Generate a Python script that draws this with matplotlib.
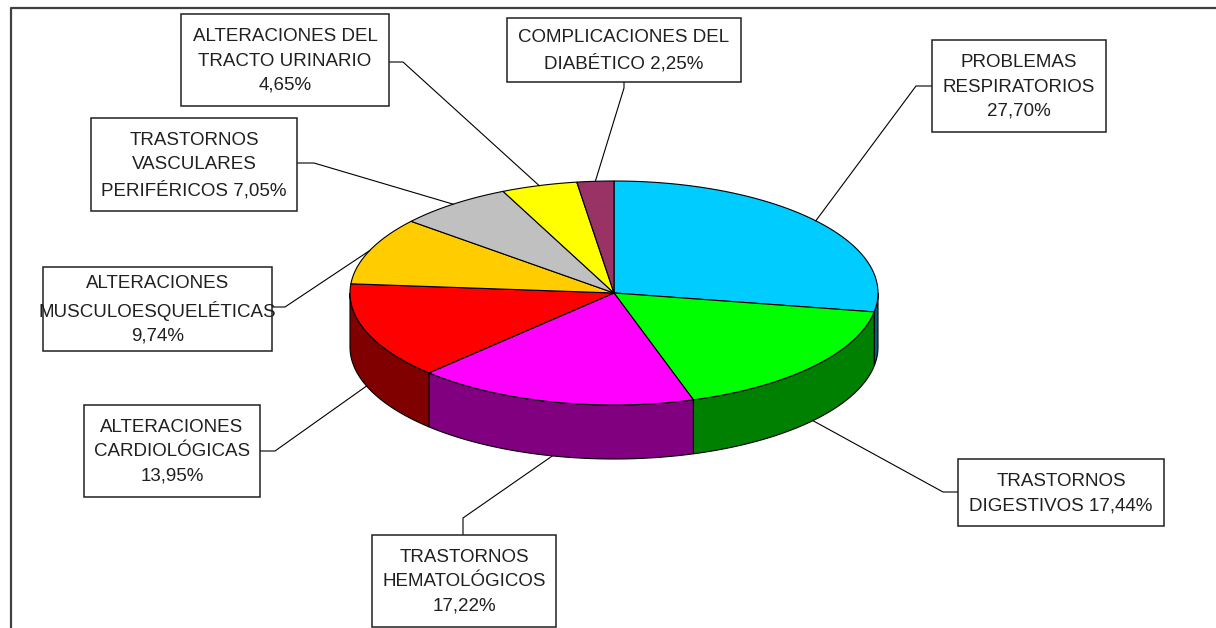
import numpy as np
import matplotlib
matplotlib.use('Agg')
import matplotlib.pyplot as plt
from matplotlib.patches import Polygon, Rectangle

plt.rcParams['font.family'] = ['Liberation Sans', 'DejaVu Sans']

#############################################################################
# datos
#############################################################################

nombres = ['PROBLEMAS\nRESPIRATORIOS\n{}',
           'TRASTORNOS\nDIGESTIVOS {}',
           'TRASTORNOS\nHEMATOLÓGICOS\n{}',
           'ALTERACIONES\nCARDIOLÓGICAS\n{}',
           'ALTERACIONES\nMUSCULOESQUELÉTICAS\n{}',
           'TRASTORNOS\nVASCULARES\nPERIFÉRICOS {}',
           'ALTERACIONES DEL\nTRACTO URINARIO\n{}',
           'COMPLICACIONES DEL\nDIABÉTICO {}']
porcentajes = [27.70, 17.44, 17.22, 13.95, 9.74, 7.05, 4.65, 2.25]

colores = ['#00CCFF', '#00FF00', '#FF00FF', '#FF0000',
           '#FFCC00', '#C0C0C0', '#FFFF00', '#993366']
colores_lado = ['#00607A', '#008000', '#800080', '#800000',
                '#806600', '#606060', '#808000', '#4C1933']

# cajas de etiqueta (x0, y0, x1, y1) en pixeles
cajas = [(932, 40, 1106, 132),
         (958, 459, 1164, 526),
         (372, 535, 556, 627),
         (84, 405, 260, 497),
         (43, 267, 272, 351),
         (91, 118, 297, 211),
         (181, 14, 389, 106),
         (507, 18, 741, 82)]
# punto de la caja y codo de la linea guia
anclas = [((932, 86), (916, 86)),
          ((958, 492), (943, 492)),
          ((463, 535), (463, 518)),
          ((260, 451), (275, 451)),
          ((272, 307), (285, 307)),
          ((297, 163), (314, 163)),
          ((389, 62), (403, 62)),
          ((624, 82), (624, 88))]

# geometria del pastel 3D
CX, CY = 614, 293
RA, RB = 264, 112
ALTO = 54

#############################################################################

W, H = 1216, 628
fig = plt.figure(figsize=(W / 100, H / 100), dpi=100)
ax = fig.add_axes([0, 0, 1, 1])
ax.set_xlim(0, W)
ax.set_ylim(H, 0)
ax.axis('off')


def punto(t, dy=0):
    # t en grados, sentido horario desde las 12
    r = np.radians(t)
    return CX + RA * np.sin(r), CY - RB * np.cos(r) + dy


def arco(t1, t2, dy=0):
    ts = np.linspace(t1, t2, max(int(abs(t2 - t1) * 2), 2))
    xs, ys = punto(ts, dy)
    return np.column_stack([xs, ys])


total = sum(porcentajes)
angulos = np.concatenate([[0], np.cumsum(porcentajes) / total * 360])

# lados (solo la parte frontal, de 90 a 270 grados)
for i in range(len(porcentajes)):
    t1, t2 = angulos[i], angulos[i + 1]
    a1, a2 = max(t1, 90), min(t2, 270)
    if a2 <= a1:
        continue
    sup = arco(a1, a2)
    inf = arco(a1, a2, ALTO)[::-1]
    ax.add_patch(Polygon(np.vstack([sup, inf]), closed=True,
                         facecolor=colores_lado[i], edgecolor='black',
                         linewidth=0.8, zorder=1))

# cara superior
for i in range(len(porcentajes)):
    t1, t2 = angulos[i], angulos[i + 1]
    pts = np.vstack([[CX, CY], arco(t1, t2)])
    ax.add_patch(Polygon(pts, closed=True, facecolor=colores[i],
                         edgecolor='black', linewidth=0.8, zorder=2))

# etiquetas y lineas guia
for i, v in enumerate(porcentajes):
    medio = (angulos[i] + angulos[i + 1]) / 2
    dy = ALTO if 90 < medio < 270 else 0
    ex, ey = punto(medio, dy)
    (bx, by), (kx, ky) = anclas[i]
    ax.plot([bx, kx, ex], [by, ky, ey], color='black', linewidth=0.8,
            zorder=3)

    x0, y0, x1, y1 = cajas[i]
    ax.add_patch(Rectangle((x0, y0), x1 - x0, y1 - y0, facecolor='white',
                           edgecolor='#202020', linewidth=1.1, zorder=4))
    texto = nombres[i].format(f'{v:.2f}'.replace('.', ',') + '%')
    ax.text((x0 + x1) / 2, (y0 + y1) / 2 + 1, texto, ha='center',
            va='center', fontsize=13.5, color='#202020', linespacing=1.55,
            zorder=5)

# marco del grafico
ax.plot([11, 11, W], [H, 8, 8], color='#404040', linewidth=1.6, zorder=6)

fig.savefig('out.png', dpi=100)
